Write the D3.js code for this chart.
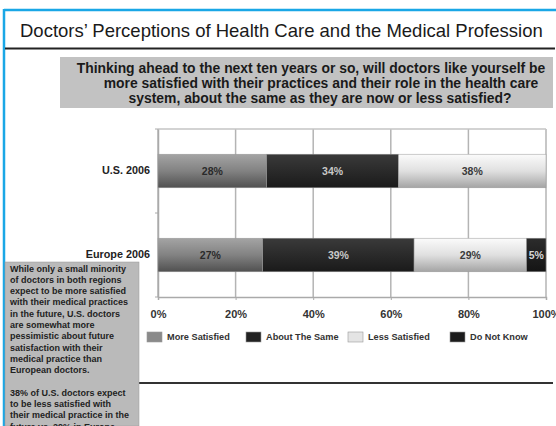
<!DOCTYPE html>
<html>
<head>
<meta charset="utf-8">
<script src="https://cdn.jsdelivr.net/npm/d3@7"></script>
<style>
  html, body { margin: 0; padding: 0; background: #fff; }
  svg { display: block; font-family: "Liberation Sans", Arial, sans-serif; }
</style>
</head>
<body>
<svg id="chart" width="556" height="426"></svg>
<script>
// data
const categories = ['U.S. 2006', 'Europe 2006'];
const seriesNames = ['More Satisfied', 'About The Same', 'Less Satisfied', 'Do Not Know'];
const moreSatisfied = [28, 27];
const aboutSame = [34, 39];
const lessSatisfied = [38, 29];
const doNotKnow = [0, 5];
const tickValues = [0, 20, 40, 60, 80, 100];

const title = 'Doctors\u2019 Perceptions of Health Care and the Medical Profession';
const question = [
  'Thinking ahead to the next ten years or so, will doctors like yourself be',
  'more satisfied with their practices and their role in the health care',
  'system, about the same as they are now or less satisfied?'
];
const note = [
  'While only a small minority',
  'of doctors in both regions',
  'expect to be more satisfied',
  'with their medical practices',
  'in the future, U.S. doctors',
  'are somewhat more',
  'pessimistic about future',
  'satisfaction with their',
  'medical practice than',
  'European doctors.',
  '',
  '38% of U.S. doctors expect',
  'to be less satisfied with',
  'their medical practice in the',
  'future vs. 29% in Europe.'
];

const svg = d3.select('#chart');
const W = 556, H = 426;

// table for the stack
const table = categories.map((c, i) => ({
  cat: c,
  'More Satisfied': moreSatisfied[i],
  'About The Same': aboutSame[i],
  'Less Satisfied': lessSatisfied[i],
  'Do Not Know': doNotKnow[i]
}));

// gradients for the bars (vertical, light on top)
const gradStops = [
  [['0%', '#a4a4a4'], ['50%', '#828282'], ['100%', '#505050']],
  [['0%', '#3a3a3a'], ['100%', '#1a1a1a']],
  [['0%', '#fbfbfb'], ['50%', '#e0e0e0'], ['100%', '#a4a4a4']],
  [['0%', '#2c2c2c'], ['100%', '#141414']]
];
const swatch = ['#8a8a8a', '#222', '#e4e4e4', '#1c1c1c'];
const labelColor = ['#2a2a2a', '#c8c8c8', '#3a3a3a', '#d8d8d8'];

const defs = svg.append('defs');
gradStops.forEach((stops, i) => {
  const g = defs.append('linearGradient')
    .attr('id', `g${i}`)
    .attr('x1', 0).attr('y1', 0).attr('x2', 0).attr('y2', 1);
  stops.forEach(s => g.append('stop').attr('offset', s[0]).attr('stop-color', s[1]));
});

// frame: blue border, title, underline
svg.append('line')
  .attr('x1', 4).attr('x2', W).attr('y1', 10).attr('y2', 10)
  .attr('stroke', '#1aa7e6').attr('stroke-width', 2.5);
svg.append('line')
  .attr('x1', 4).attr('x2', 4).attr('y1', 9).attr('y2', H)
  .attr('stroke', '#1aa7e6').attr('stroke-width', 2.5);

svg.append('text')
  .attr('x', 20).attr('y', 37)
  .attr('font-size', 18.5)
  .attr('fill', '#1a1a1a')
  .text(title);
svg.append('line')
  .attr('x1', 5).attr('x2', 555).attr('y1', 48.5).attr('y2', 48.5)
  .attr('stroke', '#222').attr('stroke-width', 2);

// question box
svg.append('rect')
  .attr('x', 60).attr('y', 57).attr('width', 493).attr('height', 51)
  .attr('fill', '#c2c2c2');
svg.append('g')
  .selectAll('text')
  .data(question)
  .join('text')
  .attr('x', (d, i) => [311, 321, 320][i])
  .attr('y', (d, i) => 72.5 + i * 15)
  .attr('text-anchor', 'middle')
  .attr('font-size', 13.9)
  .attr('font-weight', 'bold')
  .attr('fill', '#1a1a1a')
  .text(d => d);

// scales
const x = d3.scaleLinear().domain([0, 100]).range([158, 546]);
const y = d3.scaleBand().domain(categories).range([129, 297])
  .paddingInner(0.6).paddingOuter(0.3);

const chart = svg.append('g');

// gridlines + top border
chart.append('g')
  .selectAll('line')
  .data(tickValues)
  .join('line')
  .attr('x1', d => x(d)).attr('x2', d => x(d))
  .attr('y1', 129).attr('y2', 297)
  .attr('stroke', '#b4b4b4').attr('stroke-width', 1.5);
chart.append('line')
  .attr('x1', x(0)).attr('x2', x(100)).attr('y1', 129).attr('y2', 129)
  .attr('stroke', '#c4c4c4').attr('stroke-width', 1.5);

// bottom axis
const xAxis = chart.append('g')
  .attr('transform', 'translate(0,297)')
  .call(d3.axisBottom(x).tickValues(tickValues).tickFormat(d => d + '%').tickSize(3).tickPadding(10));
xAxis.select('.domain').attr('stroke', '#aaa').attr('stroke-width', 1.5);
xAxis.selectAll('.tick line').attr('stroke', '#aaa');
xAxis.selectAll('text')
  .attr('font-size', 11).attr('font-weight', 'bold').attr('fill', '#333')
  .attr('font-family', '"Liberation Sans", Arial, sans-serif');

// left axis
const yAxis = chart.append('g')
  .attr('transform', `translate(${x(0)},0)`)
  .call(d3.axisLeft(y).tickSize(0).tickPadding(8));
yAxis.select('.domain').attr('stroke', '#aaa').attr('stroke-width', 1.5);
yAxis.selectAll('text')
  .attr('font-size', 10.8).attr('font-weight', 'bold').attr('fill', '#222')
  .attr('font-family', '"Liberation Sans", Arial, sans-serif');
// category boundary ticks
const bounds = d3.range(categories.length + 1).map(i => 129 + i * y.step());
chart.append('g')
  .selectAll('line')
  .data(bounds)
  .join('line')
  .attr('x1', x(0) - 3).attr('x2', x(0))
  .attr('y1', d => d).attr('y2', d => d)
  .attr('stroke', '#aaa');

// stacked bars
const series = d3.stack().keys(seriesNames)(table);
const layers = chart.append('g')
  .selectAll('g')
  .data(series)
  .join('g')
  .attr('fill', (d, i) => `url(#g${i})`);

layers.selectAll('rect')
  .data(d => d.filter(p => p[1] - p[0] > 0))
  .join('rect')
  .attr('x', d => x(d[0]))
  .attr('y', d => y(d.data.cat))
  .attr('width', d => x(d[1]) - x(d[0]))
  .attr('height', y.bandwidth())
  .attr('stroke', '#999').attr('stroke-width', 0.5);

layers.each(function (s, i) {
  d3.select(this).selectAll('text')
    .data(s.filter(p => p[1] - p[0] > 0))
    .join('text')
    .attr('x', d => (x(d[0]) + x(d[1])) / 2)
    .attr('y', d => y(d.data.cat) + y.bandwidth() / 2)
    .attr('dy', '0.35em')
    .attr('text-anchor', 'middle')
    .attr('font-size', 10.5)
    .attr('font-weight', 'bold')
    .attr('fill', labelColor[i])
    .text(d => (d[1] - d[0]) + '%');
});

// legend
const legendX = [147, 246, 348, 450];
const legend = chart.append('g')
  .selectAll('g')
  .data(seriesNames)
  .join('g')
  .attr('transform', (d, i) => `translate(${legendX[i]},332)`);
legend.append('rect')
  .attr('width', 15).attr('height', 10)
  .attr('fill', (d, i) => swatch[i])
  .attr('stroke', '#999').attr('stroke-width', 0.6);
legend.append('text')
  .attr('x', 20).attr('y', 5).attr('dy', '0.35em')
  .attr('font-size', 9.2).attr('font-weight', 'bold').attr('fill', '#333')
  .text(d => d);

// bottom rule
svg.append('line')
  .attr('x1', 139).attr('x2', 553).attr('y1', 383).attr('y2', 383)
  .attr('stroke', '#333').attr('stroke-width', 2);

// side note
svg.append('rect')
  .attr('x', 5).attr('y', 262).attr('width', 134).attr('height', H - 262)
  .attr('fill', '#bababa')
  .attr('stroke', '#999').attr('stroke-width', 0.5);
svg.append('g')
  .selectAll('text')
  .data(note)
  .join('text')
  .attr('x', 10)
  .attr('y', (d, i) => 271.5 + i * 11.3)
  .attr('font-size', 9)
  .attr('font-weight', 'bold')
  .attr('fill', '#222')
  .text(d => d);
</script>
</body>
</html>
